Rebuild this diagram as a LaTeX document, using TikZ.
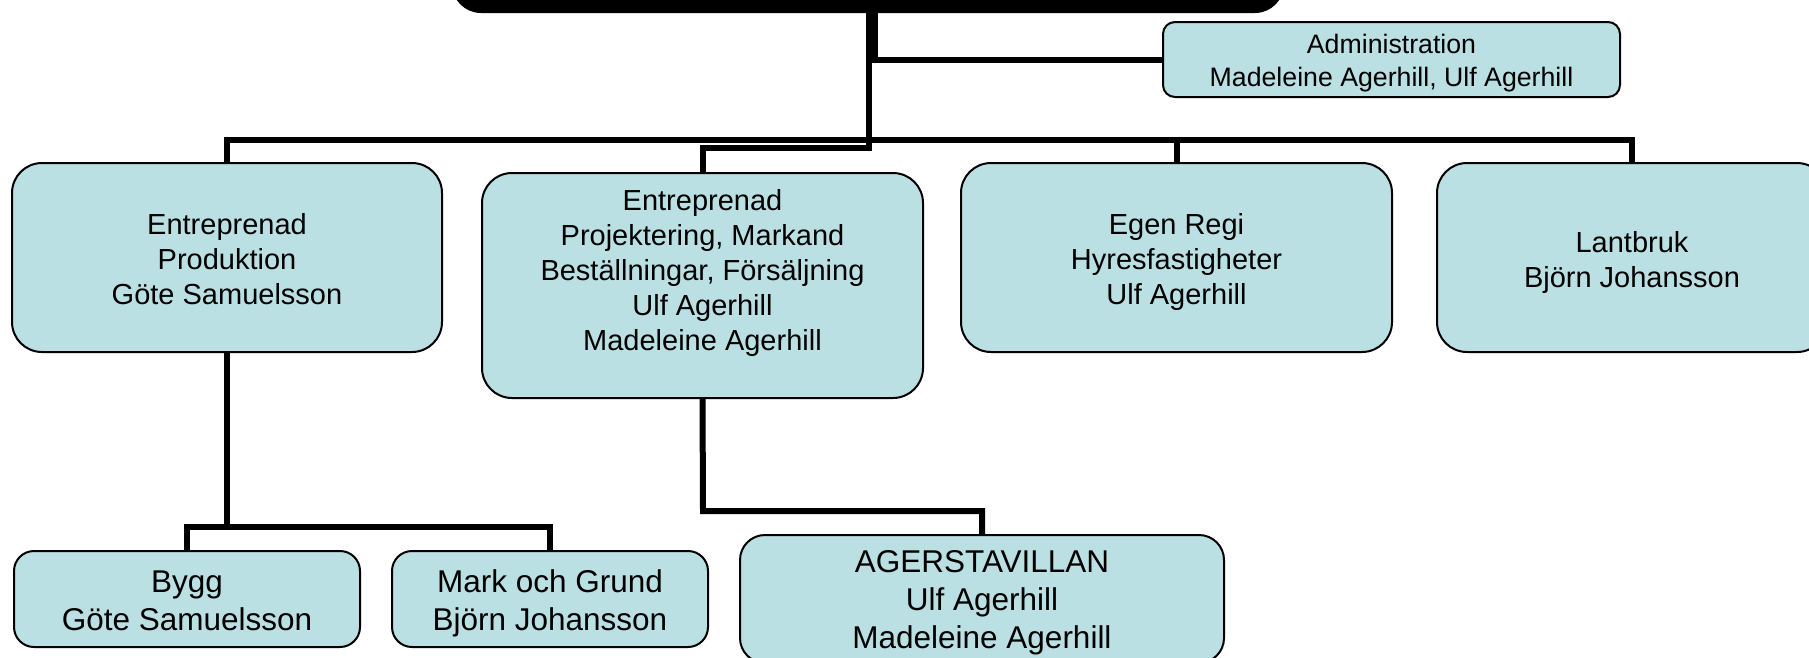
\documentclass[tikz,border=0pt]{standalone}
\usepackage{fontspec}
\setmainfont{Liberation Sans}
\definecolor{boxfill}{RGB}{186,224,227}
\newcommand{\dntext}[2]{\raisebox{-#1}[\height][\depth]{\begin{tabular}{@{}c@{}}#2\end{tabular}}}
\tikzset{
  unit/.style={draw=black, line width=2pt, fill=boxfill, inner sep=0pt, outer sep=0pt,
               align=center, text=black, rounded corners=30pt},
  midfont/.style={font=\fontsize{29}{35}\selectfont},
  lowfont/.style={font=\fontsize{31.5}{38}\selectfont},
  admfont/.style={font=\fontsize{26.7}{33.5}\selectfont},
  conn/.style={draw=black, line width=6pt, line join=miter},
}
\begin{document}
\begin{tikzpicture}[x=1pt, y=-1pt]
\useasboundingbox (0,0) rectangle (1809,657);
\clip (0,0) rectangle (1809,657);
\fill[white] (0,0) rectangle (1809,657);

% top (cut-off) box
\node[draw=black, fill=black, line width=2pt, rounded corners=28pt, inner sep=0pt, outer sep=0pt,
      minimum width=830pt, minimum height=72pt] (top) at (868,-24) {};

% administration
\node[unit, admfont, rounded corners=12pt, minimum width=457pt, minimum height=75pt] (adm) at (1391.5,59.5)
  {\dntext{4pt}{Administration\\Madeleine Agerhill, Ulf Agerhill}};

% second level
\node[unit, midfont, minimum width=430pt, minimum height=189pt] (b1) at (227,257.5)
  {\dntext{5pt}{Entreprenad\\Produktion\\Göte Samuelsson}};
\node[unit, midfont, minimum width=441pt, minimum height=225pt] (b2) at (702.5,285.5)
  {\dntext{5pt}{Entreprenad\\Projektering, Markand\\Beställningar, Försäljning\\Ulf Agerhill\\Madeleine Agerhill\\\mbox{}}};
\node[unit, midfont, minimum width=431pt, minimum height=189pt] (b3) at (1176.5,257.5)
  {\dntext{5pt}{Egen Regi\\Hyresfastigheter\\Ulf Agerhill}};
\node[unit, midfont, minimum width=390pt, minimum height=189pt] (b4) at (1632,257.5)
  {\dntext{5pt}{Lantbruk\\Björn Johansson}};

% third level
\node[unit, lowfont, rounded corners=20pt, minimum width=346pt, minimum height=96pt] (bygg) at (187,599)
  {\dntext{5pt}{Bygg\\Göte Samuelsson}};
\node[unit, lowfont, rounded corners=20pt, minimum width=316pt, minimum height=96pt] (mark) at (550,599)
  {\dntext{5pt}{Mark och Grund\\Björn Johansson}};
\node[unit, lowfont, rounded corners=25pt, minimum width=484pt, minimum height=128pt] (ager) at (982,599)
  {\dntext{4pt}{AGERSTAVILLAN\\Ulf Agerhill\\Madeleine Agerhill}};

% junction coordinates
\coordinate (ta) at (875,12);
\coordinate (tk) at (869,12);
\coordinate (bj) at (869,140);
\coordinate (j2) at (869,148);
\coordinate (j1) at (227,527);
\coordinate (j3) at (703,511);

% connectors
\draw[conn] (ta) |- (adm.west);
\draw[conn] (tk) -- (j2) -| (b2.north);
\draw[conn] (b1.north) |- (bj) -| (b4.north);
\draw[conn] (b3.north) -- (b3.north |- bj);
\draw[conn] (b1.south) -- (j1);
\draw[conn] (bygg.north) |- (j1) -| (mark.north);
\draw[conn] (b2.south) -- (j3) -| (ager.north);
\end{tikzpicture}
\end{document}
